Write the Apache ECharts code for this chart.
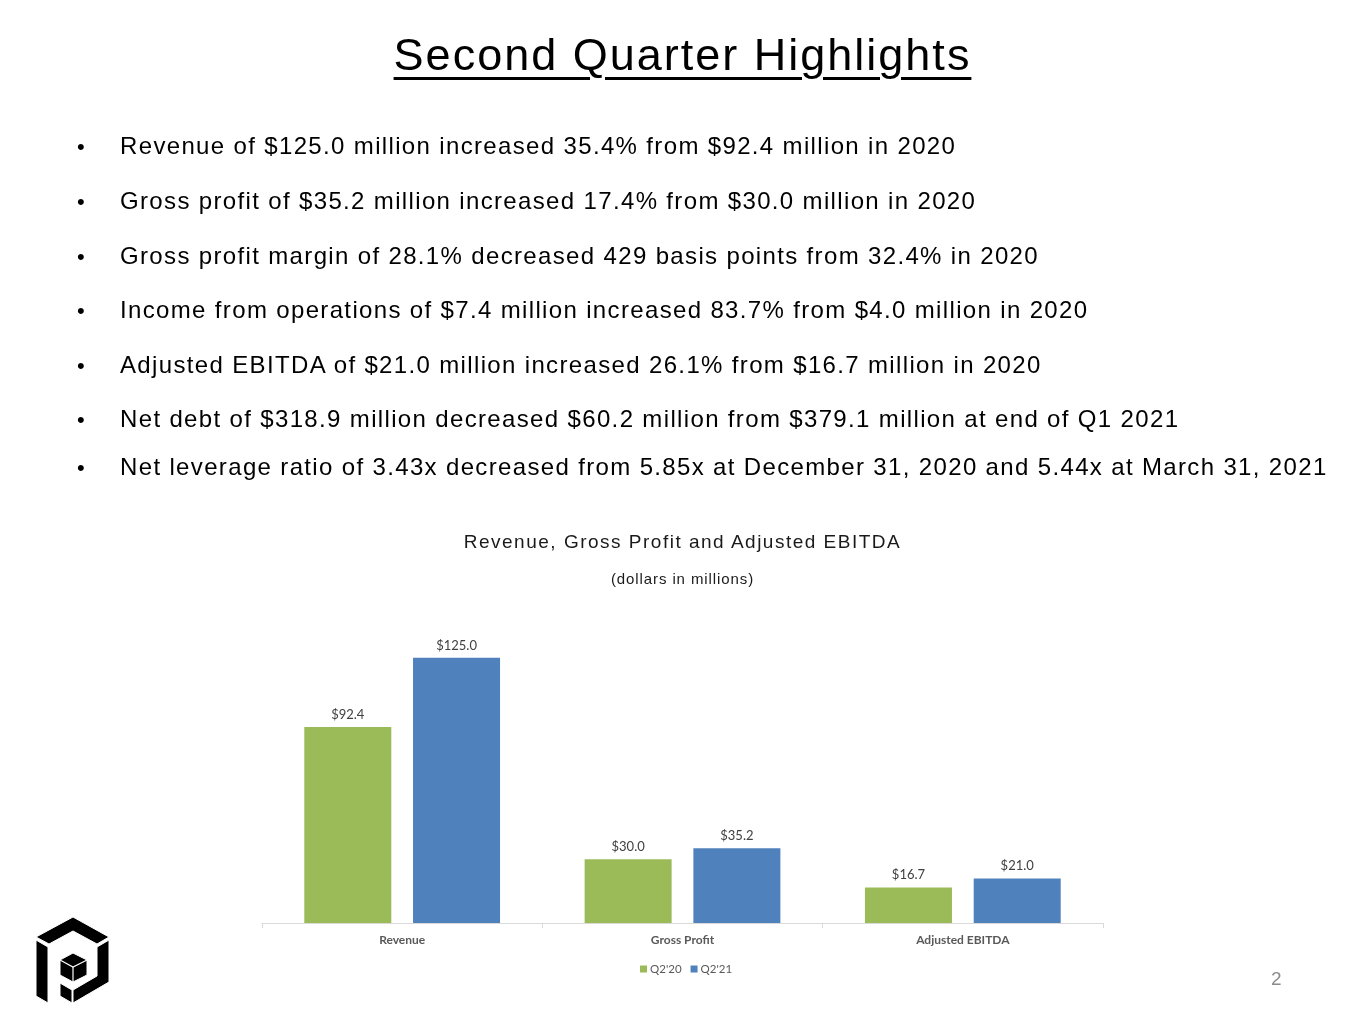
<!DOCTYPE html>
<html>
<head>
<meta charset="utf-8">
<title>Second Quarter Highlights</title>
<script src="https://cdn.jsdelivr.net/npm/echarts@6/dist/echarts.min.js"></script>
<style>
  html, body { margin: 0; padding: 0; background: #fff; }
  #page { position: relative; width: 1365px; height: 1024px; overflow: hidden; }
  #slide { position: absolute; left: 0; top: 0; width: 1365px; height: 1024px; }
  .t {
    position: absolute;
    white-space: nowrap;
    font-family: "Liberation Sans", Arial, sans-serif;
    color: #000;
    z-index: 2;
  }
</style>
</head>
<body>
<div id="page">
  <div id="slide"></div>
</div>
<script>
// chart data
var categories = ['Revenue', 'Gross Profit', 'Adjusted EBITDA'];
var seriesNames = ["Q2'20", "Q2'21"];
var q220 = [92.4, 30.0, 16.7];
var q221 = [125.0, 35.2, 21.0];

// slide text
var bullets = [
    'Revenue of $125.0 million increased 35.4% from $92.4 million in 2020',
    'Gross profit of $35.2 million increased 17.4% from $30.0 million in 2020',
    'Gross profit margin of 28.1% decreased 429 basis points from 32.4% in 2020',
    'Income from operations of $7.4 million increased 83.7% from $4.0 million in 2020',
    'Adjusted EBITDA of $21.0 million increased 26.1% from $16.7 million in 2020',
    'Net debt of $318.9 million decreased $60.2 million from $379.1 million at end of Q1 2021',
    'Net leverage ratio of 3.43x decreased from 5.85x at December 31, 2020 and 5.44x at March 31, 2021'
];
var bulletY = [146, 201, 256, 310, 365, 419, 467];

var CHART_FONT = 'Lato, "Open Sans", sans-serif';
var page = document.getElementById('page');

// places a line of text with its vertical middle at cy
function addText(str, x, cy, size, css) {
    var d = document.createElement('div');
    d.className = 't';
    d.textContent = str;
    var h = Math.round(size * 1.4);
    d.style.top = (cy - h / 2) + 'px';
    d.style.height = h + 'px';
    d.style.lineHeight = h + 'px';
    d.style.fontSize = size + 'px';
    if (x === 'center') {
        d.style.left = '0px';
        d.style.width = '1365px';
        d.style.textAlign = 'center';
    } else {
        d.style.left = x + 'px';
    }
    for (var k in (css || {})) d.style[k] = css[k];
    page.appendChild(d);
    return d;
}

var title = addText('', 'center', 54, 45);
var span = document.createElement('span');
span.textContent = 'Second Quarter Highlights';
span.style.letterSpacing = '2px';
span.style.textDecoration = 'underline';
span.style.textDecorationThickness = '3px';
span.style.textUnderlineOffset = '7px';
title.appendChild(span);

bullets.forEach(function (b, i) {
    addText('\u2022', 77, bulletY[i], 22);
    addText(b, 120, bulletY[i], 24, {letterSpacing: '1.35px'});
});
addText('Revenue, Gross Profit and Adjusted EBITDA', 'center', 541, 19, {letterSpacing: '1.5px', color: '#1a1a1a'});
addText('(dollars in millions)', 'center', 578, 15, {letterSpacing: '0.9px', color: '#1a1a1a'});
addText('2', 1271, 978, 19, {color: '#8c8c8c'});

// logo shapes (drawn as graphic polygons)
var graphics = [];
var logoParts = [
    [[36, 937], [73, 917], [109, 937], [97, 944], [73, 931], [49, 944]],
    [[36, 940], [48, 947], [48, 1003], [36, 996]],
    [[97, 947], [109, 940], [109, 982], [73, 1003], [73, 990], [97, 976]],
    [[60, 983], [72, 990], [72, 1003], [60, 996]],
    [[60, 960], [73, 953], [87, 960], [87, 975], [73, 982], [60, 975]]
];
logoParts.forEach(function (pts) {
    graphics.push({
        type: 'polygon', silent: true,
        shape: {points: pts},
        style: {fill: '#000', stroke: '#fff', lineWidth: 1}
    });
});
graphics.push({
    type: 'polyline', silent: true,
    shape: {points: [[60, 960], [73, 967], [87, 960]]},
    style: {stroke: '#fff', lineWidth: 1.2, fill: null}
});
graphics.push({
    type: 'line', silent: true,
    shape: {x1: 73, y1: 967, x2: 73, y2: 982},
    style: {stroke: '#fff', lineWidth: 1.2}
});

var chart = echarts.init(document.getElementById('slide'), null, {renderer: 'canvas'});

var labelStyle = {
    show: true,
    position: 'top',
    distance: 6,
    color: '#404040',
    fontFamily: CHART_FONT,
    fontSize: 13,
    formatter: function (p) { return '$' + p.value.toFixed(1); }
};

var option = {
    backgroundColor: '#fff',
    animation: false,
    graphic: graphics,
    legend: {
        data: seriesNames,
        left: 635,
        top: 958,
        icon: 'rect',
        itemWidth: 7,
        itemHeight: 7,
        itemGap: 9,
        textStyle: {color: '#595959', fontFamily: CHART_FONT, fontSize: 11.5, padding: [0, 0, 0, -2]}
    },
    grid: {left: 262, right: 262, top: 626, bottom: 101},
    xAxis: {
        type: 'category',
        data: categories,
        axisLine: {lineStyle: {color: '#d9d9d9', width: 1}},
        axisTick: {show: true, length: 5, lineStyle: {color: '#d9d9d9'}},
        axisLabel: {
            color: '#595959',
            fontFamily: CHART_FONT,
            fontWeight: 'bold',
            fontSize: 12,
            margin: 11
        }
    },
    yAxis: {
        type: 'value',
        min: 0,
        max: 140,
        show: false,
        splitLine: {show: false}
    },
    series: [
        {
            name: seriesNames[0],
            type: 'bar',
            data: q220,
            barWidth: 87,
            barGap: '25%',
            itemStyle: {color: '#9bbb59'},
            label: labelStyle
        },
        {
            name: seriesNames[1],
            type: 'bar',
            data: q221,
            barWidth: 87,
            barGap: '25%',
            itemStyle: {color: '#4f81bd'},
            label: labelStyle
        }
    ]
};
chart.setOption(option);
</script>
</body>
</html>
